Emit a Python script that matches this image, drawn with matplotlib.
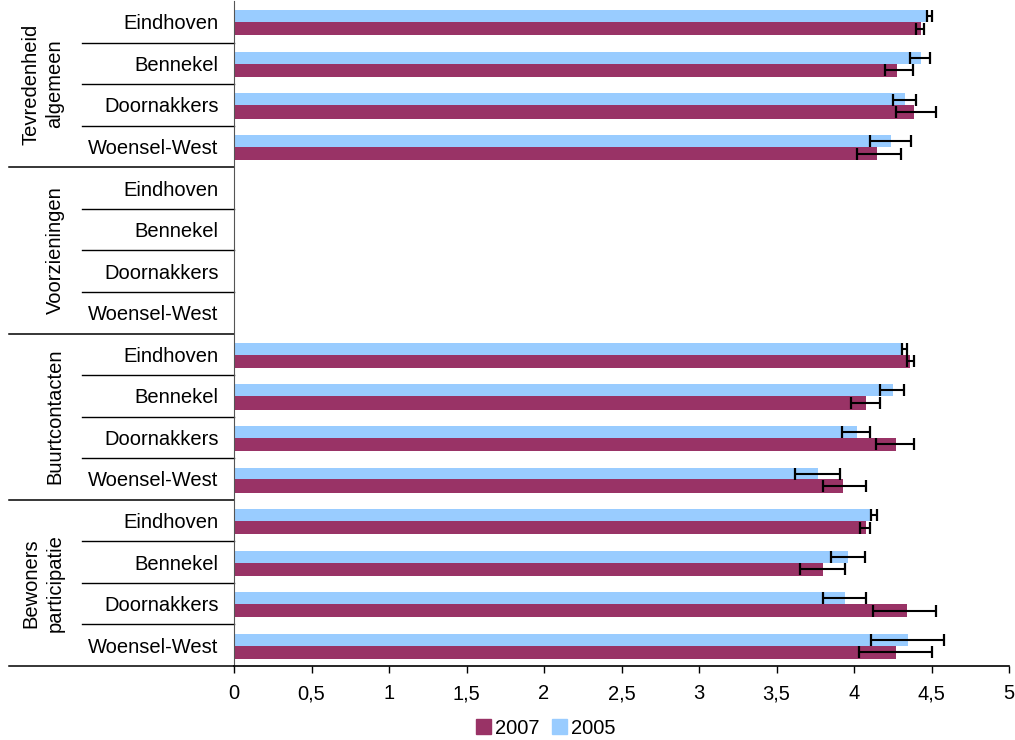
import numpy as np
import matplotlib
matplotlib.use("Agg")
import matplotlib.pyplot as plt
from matplotlib.patches import Patch
import matplotlib.transforms as mtrans

plt.rcParams['font.family'] = ['Liberation Sans', 'DejaVu Sans']

# groups and neighbourhoods, top to bottom
groups = ['Tevredenheid\nalgemeen', 'Voorzieningen', 'Buurtcontacten', 'Bewoners\nparticipatie']
cities = ['Eindhoven', 'Bennekel', 'Doornakkers', 'Woensel-West']

nan = np.nan
# mean scores 2005
val_2005 = [4.47, 4.43, 4.33, 4.24,
            nan, nan, nan, nan,
            4.31, 4.25, 4.02, 3.77,
            4.11, 3.96, 3.94, 4.35]
lo_2005 = [4.47, 4.36, 4.25, 4.10,
           nan, nan, nan, nan,
           4.31, 4.17, 3.92, 3.62,
           4.11, 3.85, 3.80, 4.11]
hi_2005 = [4.50, 4.49, 4.40, 4.37,
           nan, nan, nan, nan,
           4.34, 4.32, 4.10, 3.91,
           4.15, 4.07, 4.08, 4.58]

# mean scores 2007
val_2007 = [4.43, 4.28, 4.39, 4.15,
            nan, nan, nan, nan,
            4.36, 4.08, 4.27, 3.93,
            4.08, 3.80, 4.34, 4.27]
lo_2007 = [4.40, 4.20, 4.27, 4.02,
           nan, nan, nan, nan,
           4.34, 3.98, 4.14, 3.80,
           4.04, 3.65, 4.12, 4.03]
hi_2007 = [4.45, 4.38, 4.53, 4.30,
           nan, nan, nan, nan,
           4.39, 4.17, 4.39, 4.08,
           4.10, 3.94, 4.53, 4.50]

x_ticks = [0, 0.5, 1, 1.5, 2, 2.5, 3, 3.5, 4, 4.5, 5]
x_labels = ['0', '0,5', '1', '1,5', '2', '2,5', '3', '3,5', '4', '4,5', '5']

c2007 = '#993366'
c2005 = '#99ccff'
fs = 14.5

W, H = 1015, 740
fig = plt.figure(figsize=(W / 100, H / 100), dpi=100)
ax = fig.add_axes([234 / W, 1 - 666 / H, 775 / W, 665 / H])

n = len(groups) * len(cities)
y = np.arange(n)
v05 = np.array(val_2005)
v07 = np.array(val_2007)
ok = ~np.isnan(v05)

ax.barh(y[ok] - 0.13, v05[ok], height=0.29, color=c2005, zorder=2)
ax.barh(y[ok] + 0.17, v07[ok], height=0.32, color=c2007, zorder=2)

for lo, hi, off in [(lo_2005, hi_2005, -0.13), (lo_2007, hi_2007, 0.17)]:
    lo = np.array(lo)[ok]
    hi = np.array(hi)[ok]
    ax.errorbar((lo + hi) / 2, y[ok] + off, xerr=(hi - lo) / 2, fmt='none',
                ecolor='black', elinewidth=1.5, capsize=4.5, capthick=1.6, zorder=3)

ax.set_xlim(0, 5)
ax.set_ylim(n - 0.5, -0.5)
ax.set_xticks(x_ticks)
ax.set_xticklabels(x_labels, fontsize=fs)
ax.tick_params(axis='x', direction='out', length=5, width=1, pad=8)

ax.set_yticks(y)
ax.set_yticklabels(cities * len(groups), fontsize=fs)
ax.tick_params(axis='y', length=0, pad=11)

for s in ['top', 'right']:
    ax.spines[s].set_visible(False)
ax.spines['left'].set_color('#555555')
ax.spines['bottom'].set_color('black')
ax.spines['bottom'].set_linewidth(1.2)

# separator lines in the label area
trans = mtrans.blended_transform_factory(ax.transAxes, ax.transData)
x_city = (82 - 234) / 775
x_group = (9 - 234) / 775
for i in range(1, n + 1):
    yy = i - 0.5
    if i % len(cities) == 0:
        ax.plot([x_group, 0], [yy, yy], color='black', lw=1.1, transform=trans, clip_on=False)
    else:
        ax.plot([x_city, 0], [yy, yy], color='black', lw=1.0, transform=trans, clip_on=False)

# group labels
for g, name in enumerate(groups):
    yc = g * len(cities) + (len(cities) - 1) / 2
    xp = 43 if '\n' in name else 55
    ax.text((xp - 234) / 775, yc, name, rotation=90, ha='center', va='center',
            fontsize=fs, transform=trans, linespacing=1.3)

handles = [Patch(color=c2007, label='2007'), Patch(color=c2005, label='2005')]
fig.legend(handles=handles, loc='center', bbox_to_anchor=(546 / W, 1 - 728 / H), ncol=2,
           frameon=False, fontsize=fs, handlelength=0.75, handleheight=0.75,
           handletextpad=0.2, columnspacing=0.6, borderpad=0)

fig.savefig('out.png', dpi=100)
